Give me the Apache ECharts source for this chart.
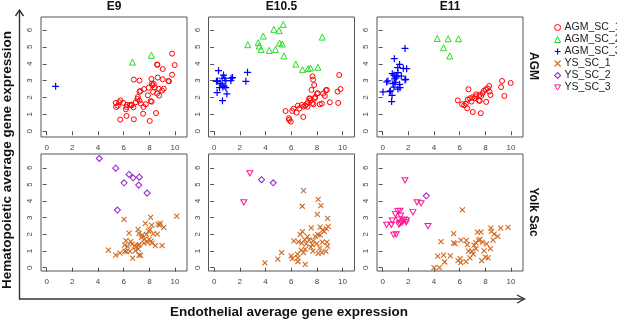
<!DOCTYPE html>
<html>
<head>
<meta charset="utf-8">
<script src="https://cdn.jsdelivr.net/npm/echarts@6/dist/echarts.min.js"></script>
<style>
  html, body { margin: 0; padding: 0; background: #fff; }
  #chart { width: 617px; height: 319px; }
</style>
</head>
<body>
<div id="chart"></div>
<script>
// stages (columns) and tissues (rows)
const stages = ['E9', 'E10.5', 'E11']
const tissues = ['AGM', 'Yolk Sac']
const groups = ['AGM_SC_1', 'AGM_SC_2', 'AGM_SC_3', 'YS_SC_1', 'YS_SC_2', 'YS_SC_3']
const xTicks = [0, 2, 4, 6, 8, 10]
const yTicks = [0, 1, 2, 3, 4, 5, 6]

// [endothelial, hematopoietic] per cell
const E9_AGM_SC_1 = [[9.77,4.6],[9.97,3.92],[8.6,3.96],[8.63,3.93],[9.04,3.69],[9.77,3.35],[8.65,3.18],[9.04,3.08],[9.53,2.96],[9.48,2.98],[6.79,3.06],[7.23,3.0],[8.16,3.1],[8.19,2.82],[8.34,2.8],[8.24,2.72],[7.95,2.58],[8.42,2.6],[8.73,2.52],[9.12,2.52],[8.99,2.41],[7.59,2.5],[7.3,2.39],[7.23,2.35],[7.88,2.13],[8.29,2.33],[8.6,2.23],[8.76,2.11],[7.1,2.03],[7.07,1.91],[6.94,1.72],[7.23,1.81],[7.33,1.64],[7.72,1.6],[8.1,1.79],[8.18,1.75],[5.75,1.83],[5.65,1.72],[5.39,1.68],[5.41,1.44],[5.54,1.52],[5.96,1.68],[6.27,1.56],[6.47,1.56],[6.63,1.54],[6.76,1.42],[7.54,1.44],[6.22,1.44],[6.17,1.3],[8.52,1.08],[7.51,1.04],[6.79,0.71],[6.22,0.91],[5.73,0.69],[8.03,0.61],[6.6,1.58]]
const E9_AGM_SC_2 = [[6.68,4.1],[8.16,4.5]]
const E9_AGM_SC_3 = [[0.7,2.66]]

const E105_AGM_SC_1 = [[7.66,3.25],[7.71,3.06],[7.79,2.74],[7.58,2.45],[9.74,3.33],[8.7,2.43],[8.78,2.45],[8.49,2.23],[8.62,2.09],[9.01,1.72],[8.39,1.64],[8.23,1.6],[8.0,2.23],[8.08,2.25],[9.66,1.68],[9.61,2.35],[9.84,2.5],[7.84,1.95],[7.4,1.95],[7.51,1.83],[7.3,1.72],[7.19,1.6],[7.09,1.52],[7.64,1.66],[7.74,1.6],[7.27,1.46],[6.96,1.46],[6.83,1.56],[6.52,1.52],[6.62,1.34],[6.18,1.34],[6.08,1.2],[6.42,1.1],[6.94,0.85],[5.56,1.2],[5.82,0.77],[5.97,0.57],[5.84,0.67],[7.45,1.93],[7.87,2.03]]
const E105_AGM_SC_2 = [[5.38,6.33],[4.65,6.04],[5.06,5.96],[3.82,5.64],[5.09,5.23],[5.3,5.17],[3.43,5.25],[2.62,5.13],[3.51,5.05],[3.66,4.85],[4.29,4.79],[4.78,4.85],[5.43,4.46],[8.42,5.58],[6.36,3.98],[6.88,3.65],[7.32,3.71],[7.5,3.75],[8.08,3.79]]
const E105_AGM_SC_3 = [[0.34,3.59],[0.73,3.33],[0.62,3.14],[0.26,2.98],[0.18,2.96],[0.83,3.14],[0.91,3.0],[1.32,3.14],[1.43,3.18],[1.3,3.0],[0.47,2.84],[0.62,2.74],[0.68,2.62],[0.78,2.68],[0.42,2.58],[0.91,2.58],[0.23,2.29],[0.99,2.21],[0.65,1.81],[2.6,3.49],[2.47,2.96]]

const E11_AGM_SC_1 = [[9.3,2.98],[9.97,2.86],[9.22,2.62],[9.48,2.09],[8.29,2.68],[8.19,2.54],[8.32,2.35],[8.39,2.15],[8.03,2.49],[7.88,2.39],[7.77,2.25],[7.67,2.09],[7.54,2.15],[7.28,2.19],[7.23,2.07],[6.99,2.01],[7.15,1.95],[6.79,1.95],[6.92,1.76],[6.68,2.49],[6.63,1.87],[6.48,1.64],[6.19,1.6],[5.85,1.83],[6.35,1.54],[6.58,1.36],[7.02,1.14],[7.64,1.07],[8.06,1.74],[7.49,1.82],[7.56,1.8]]
const E11_AGM_SC_2 = [[4.25,5.5],[5.1,5.48],[5.91,5.48],[4.74,4.95],[5.23,4.46]]
const E11_AGM_SC_3 = [[1.74,4.91],[0.91,4.3],[1.32,3.96],[1.17,3.77],[1.61,3.73],[1.87,3.71],[0.75,3.41],[0.88,3.33],[1.19,3.47],[1.09,3.27],[1.45,3.27],[1.79,3.08],[1.74,3.04],[0.41,2.98],[0.31,2.92],[0.8,2.82],[0.98,2.9],[1.32,2.78],[0.88,2.62],[1.19,2.5],[1.35,2.58],[0.6,2.39],[0.55,2.35],[0.03,2.33],[0.73,2.13],[0.7,1.76],[1.04,3.16],[0.93,3.1]]

const E9_YS_SC_1 = [[10.13,3.1],[8.1,3.02],[6.03,2.9],[7.69,2.66],[8.68,2.62],[8.78,2.56],[8.86,2.66],[9.12,2.42],[8.18,2.56],[7.12,2.3],[7.19,2.06],[6.42,2.08],[7.95,2.2],[8.05,2.28],[8.31,2.04],[8.62,2.02],[7.77,2.0],[7.45,1.96],[7.38,1.8],[7.64,1.72],[7.97,1.7],[8.13,1.6],[7.84,1.52],[8.21,1.48],[8.47,1.32],[8.99,1.32],[7.58,1.48],[7.22,1.38],[6.55,1.56],[6.18,1.62],[6.08,1.36],[6.29,1.28],[6.65,1.42],[6.83,1.3],[7.01,1.26],[7.12,1.36],[6.49,0.98],[6.21,0.96],[6.08,1.0],[5.71,0.88],[5.38,0.76],[4.81,1.06],[6.7,0.58],[7.19,0.76],[7.32,0.74],[6.91,1.02],[7.14,1.12]]
const E9_YS_SC_2 = [[4.1,6.56],[5.38,5.98],[6.42,5.6],[6.73,5.4],[7.22,5.44],[6.03,5.1],[7.17,4.96],[7.82,4.48],[5.51,3.46]]

const E105_YS_SC_1 = [[6.96,4.63],[8.1,4.1],[8.31,3.73],[6.86,3.69],[8.03,3.2],[8.83,2.96],[7.56,2.39],[8.26,2.43],[8.88,2.47],[8.73,2.35],[8.44,2.25],[8.57,2.18],[6.88,2.16],[6.7,2.0],[7.27,1.86],[7.87,1.88],[8.08,1.98],[8.26,1.96],[7.06,1.69],[7.4,1.65],[7.71,1.61],[6.21,1.61],[6.57,1.55],[6.83,1.47],[7.17,1.43],[7.64,1.39],[8.0,1.45],[8.42,1.53],[8.78,1.53],[8.83,1.29],[8.23,1.18],[7.09,1.12],[6.78,1.06],[7.69,1.0],[8.1,0.86],[8.39,0.9],[8.7,0.98],[5.25,0.9],[4.96,0.51],[3.95,0.29],[6.0,0.71],[6.08,0.55],[6.49,0.82],[6.52,0.37],[7.09,0.2],[6.52,0.59],[6.96,0.9],[7.53,1.24]]
const E105_YS_SC_2 = [[3.69,5.29],[4.6,5.1]]
const E105_YS_SC_3 = [[2.78,5.67],[2.31,3.92]]

const E11_YS_SC_1 = [[6.21,3.47],[9.77,2.42],[9.19,2.38],[8.42,2.38],[8.47,2.18],[8.68,2.02],[8.96,1.88],[8.6,1.66],[7.38,2.14],[7.66,2.14],[7.48,1.64],[7.58,1.7],[7.77,1.54],[7.25,1.5],[7.12,1.35],[6.94,0.99],[7.27,1.15],[7.9,1.01],[8.1,1.43],[8.39,1.15],[8.21,0.59],[7.71,0.42],[6.8,0.59],[6.49,0.36],[6.03,0.55],[6.08,0.3],[5.87,0.42],[6.6,1.39],[6.52,1.64],[6.1,1.66],[5.53,2.04],[5.64,1.45],[5.53,1.49],[4.55,1.56],[4.29,0.69],[4.75,0.75],[4.83,0.34],[4.0,0.0],[4.42,0.0],[5.27,0.71],[7.06,0.81],[6.68,0.99],[8.0,0.63]]
const E11_YS_SC_2 = [[3.4,4.32]]
const E11_YS_SC_3 = [[1.74,5.25],[2.68,3.92],[2.99,3.86],[2.36,3.33],[3.53,2.5],[1.19,3.39],[1.35,3.41],[0.99,3.21],[1.4,3.13],[0.75,2.83],[1.25,2.89],[1.69,2.89],[1.84,2.85],[1.58,2.77],[1.35,2.67],[1.27,2.59],[1.84,2.73],[0.31,2.57],[0.68,2.57],[0.86,1.98],[1.06,2.0],[1.48,2.71]]

// panel order: row by row
const panels = [
  { AGM_SC_1: E9_AGM_SC_1, AGM_SC_2: E9_AGM_SC_2, AGM_SC_3: E9_AGM_SC_3 },
  { AGM_SC_1: E105_AGM_SC_1, AGM_SC_2: E105_AGM_SC_2, AGM_SC_3: E105_AGM_SC_3 },
  { AGM_SC_1: E11_AGM_SC_1, AGM_SC_2: E11_AGM_SC_2, AGM_SC_3: E11_AGM_SC_3 },
  { YS_SC_1: E9_YS_SC_1, YS_SC_2: E9_YS_SC_2 },
  { YS_SC_1: E105_YS_SC_1, YS_SC_2: E105_YS_SC_2, YS_SC_3: E105_YS_SC_3 },
  { YS_SC_1: E11_YS_SC_1, YS_SC_2: E11_YS_SC_2, YS_SC_3: E11_YS_SC_3 },
]

const FONT = 'Liberation Sans, Arial, sans-serif'
const styles = {
  AGM_SC_1: { color: '#ff0000', symbol: 'circle', size: 5, width: 1 },
  AGM_SC_2: { color: '#22dd22', symbol: 'triangle', size: 6, width: 1 },
  AGM_SC_3: { color: '#0000ff', symbol: 'path://M5,0L5,10M0,5L10,5', size: 7, width: 1.2 },
  YS_SC_1: { color: '#d2691e', symbol: 'path://M0,0L10,10M10,0L0,10', size: 5, width: 1.1 },
  YS_SC_2: { color: '#9932cc', symbol: 'diamond', size: 6, width: 1.1 },
  YS_SC_3: { color: '#ff1493', symbol: 'path://M0,0L10,0L5,8.66Z', size: [6, 5.2], width: 1 },
}

const colLefts = [41, 208.5, 377]
const rowTops = [17, 154]
const rowHeights = [120, 117]
const rowYRange = [[-0.34, 6.77], [-0.2, 6.83]]

let grids = [], xAxes = [], yAxes = [], series = []
panels.forEach((p, i) => {
  const row = Math.floor(i / 3), col = i % 3
  grids.push({
    left: colLefts[col], top: rowTops[row], width: 146, height: rowHeights[row],
    show: true, borderColor: '#555', borderWidth: 1, backgroundColor: 'transparent'
  })
  xAxes.push({
    gridIndex: i, type: 'value', min: -0.44, max: 10.93,
    axisLine: { show: false }, splitLine: { show: false },
    axisTick: { show: true, customValues: xTicks, length: 4, lineStyle: { color: '#555' } },
    axisLabel: { customValues: xTicks, fontSize: 8, color: '#444', margin: 7, fontFamily: FONT }
  })
  yAxes.push({
    gridIndex: i, type: 'value', min: rowYRange[row][0], max: rowYRange[row][1],
    axisLine: { show: false }, splitLine: { show: false },
    axisTick: { show: true, customValues: yTicks, length: 4, lineStyle: { color: '#555' } },
    axisLabel: { customValues: yTicks, fontSize: 8, color: '#444', margin: 7, rotate: 90, fontFamily: FONT }
  })
  Object.keys(p).forEach(g => {
    const s = styles[g]
    series.push({
      type: 'scatter', name: g, xAxisIndex: i, yAxisIndex: i,
      data: p[g], symbol: s.symbol, symbolSize: s.size, silent: true,
      itemStyle: { color: 'transparent', borderColor: s.color, borderWidth: s.width, opacity: 1 }
    })
  })
})

const legendData = groups.map(g => ({
  name: g,
  icon: styles[g].symbol,
  itemStyle: { color: 'transparent', borderColor: styles[g].color, borderWidth: styles[g].width }
}))

const bold = (size) => ({ fontSize: size, fontWeight: 'bold', fontFamily: FONT, fill: '#111', align: 'center', verticalAlign: 'middle' })
let graphics = []
stages.forEach((t, c) => {
  graphics.push({ type: 'text', x: colLefts[c] + 73, y: 7, style: Object.assign({ text: t }, bold(12)) })
})
const rowLabelY = [66, 212]
tissues.forEach((t, r) => {
  graphics.push({ type: 'text', x: 533, y: rowLabelY[r], rotation: -Math.PI / 2, style: Object.assign({ text: t }, bold(12)) })
})
graphics.push(
  { type: 'text', x: 289, y: 312, style: Object.assign({ text: 'Endothelial average gene expression' }, bold(13.5)) },
  { type: 'text', x: 7, y: 160, rotation: Math.PI / 2, style: Object.assign({ text: 'Hematopoietic average gene expression' }, bold(13.5)) },
  { type: 'polyline', shape: { points: [[19.5, 10], [19.5, 299], [524, 299]] }, style: { stroke: '#333', lineWidth: 1.4, fill: null } },
  { type: 'polyline', shape: { points: [[15.5, 16], [19.5, 10], [23.5, 16]] }, style: { stroke: '#333', lineWidth: 1.4, fill: null } },
  { type: 'polyline', shape: { points: [[517, 295], [524.5, 299], [517, 303]] }, style: { stroke: '#333', lineWidth: 1.4, fill: null } }
)

const myChart = echarts.init(document.getElementById('chart'), null, { renderer: 'canvas' })
myChart.setOption({
  animation: false,
  grid: grids,
  xAxis: xAxes,
  yAxis: yAxes,
  legend: {
    data: legendData, orient: 'vertical', left: 554, top: 22, padding: 0,
    itemWidth: 6, itemHeight: 6, itemGap: 1, selectedMode: false,
    textStyle: { fontSize: 10.5, color: '#222', fontFamily: FONT, padding: [0, 0, 0, -1] }
  },
  graphic: graphics,
  series: series
})
</script>
</body>
</html>
